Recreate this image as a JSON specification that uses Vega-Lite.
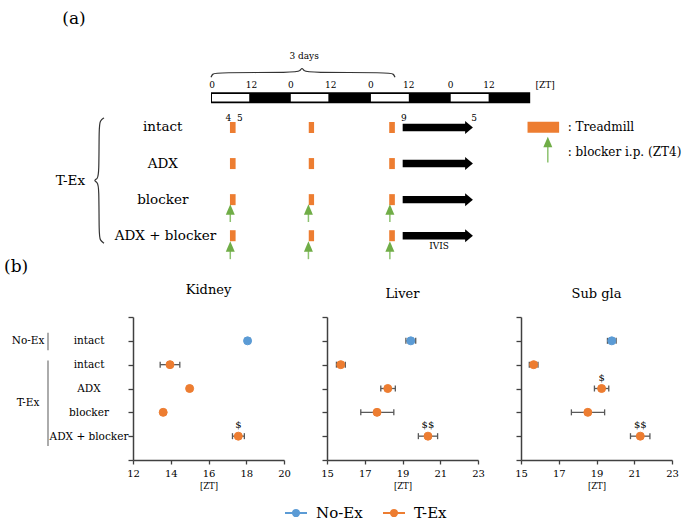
{
  "$schema": "https://vega.github.io/schema/vega-lite/v6.json",
  "padding": 0,
  "background": "#ffffff",
  "spacing": 2,
  "datasets": {
    "timeline": [{"h": 0, "h2": 96, "r": 0.176}],
    "light": [
      {"h": 0.3, "h2": 11.5, "r": 0.176},
      {"h": 24.0, "h2": 35.3, "r": 0.176},
      {"h": 48.1, "h2": 59.5, "r": 0.176},
      {"h": 72.1, "h2": 83.5, "r": 0.176}
    ],
    "treadmill": [
      {"h": 5.7, "h2": 7.4, "r": 1}, {"h": 29.4, "h2": 31.0, "r": 1}, {"h": 53.6, "h2": 55.3, "r": 1},
      {"h": 5.7, "h2": 7.4, "r": 2}, {"h": 29.4, "h2": 31.0, "r": 2}, {"h": 53.6, "h2": 55.3, "r": 2},
      {"h": 5.7, "h2": 7.4, "r": 3}, {"h": 29.4, "h2": 31.0, "r": 3}, {"h": 53.6, "h2": 55.3, "r": 3},
      {"h": 5.7, "h2": 7.4, "r": 4}, {"h": 29.4, "h2": 31.0, "r": 4}, {"h": 53.6, "h2": 55.3, "r": 4},
      {"h": 95.2, "h2": 104.7, "r": 0.99}
    ],
    "ivis": [
      {"h": 57.65, "h2": 76.8, "r": 1}, {"h": 57.65, "h2": 76.8, "r": 2},
      {"h": 57.65, "h2": 76.8, "r": 3}, {"h": 57.65, "h2": 76.8, "r": 4}
    ],
    "ivisHead": [
      {"h": 77.6, "r": 1}, {"h": 77.6, "r": 2}, {"h": 77.6, "r": 3}, {"h": 77.6, "r": 4}
    ],
    "blocker": [
      {"h": 5.8, "r": 3.273, "r2": 3.62}, {"h": 29.3, "r": 3.273, "r2": 3.62}, {"h": 53.8, "r": 3.273, "r2": 3.62},
      {"h": 5.8, "r": 4.297, "r2": 4.65}, {"h": 29.3, "r": 4.297, "r2": 4.65}, {"h": 53.8, "r": 4.297, "r2": 4.65},
      {"h": 101.3, "r": 1.401, "r2": 1.97}
    ],
    "braces": [
      {"b": "left", "i": 0, "h": -32.18, "r": 0.733},
      {"b": "left", "i": 1, "h": -33.38, "r": 0.813},
      {"b": "left", "i": 2, "h": -33.68, "r": 0.973},
      {"b": "left", "i": 3, "h": -33.68, "r": 2.31},
      {"b": "left", "i": 4, "h": -34.14, "r": 2.417},
      {"b": "left", "i": 5, "h": -35.34, "r": 2.471},
      {"b": "left", "i": 6, "h": -34.14, "r": 2.524},
      {"b": "left", "i": 7, "h": -33.68, "r": 2.631},
      {"b": "left", "i": 8, "h": -33.68, "r": 3.968},
      {"b": "left", "i": 9, "h": -33.38, "r": 4.128},
      {"b": "left", "i": 10, "h": -32.18, "r": 4.209},
      {"b": "top", "i": 0, "h": 0, "r": -0.39},
      {"b": "top", "i": 1, "h": 0.45, "r": -0.484},
      {"b": "top", "i": 2, "h": 1.5, "r": -0.524},
      {"b": "top", "i": 3, "h": 25.56, "r": -0.524},
      {"b": "top", "i": 4, "h": 26.77, "r": -0.564},
      {"b": "top", "i": 5, "h": 27.37, "r": -0.671},
      {"b": "top", "i": 6, "h": 27.97, "r": -0.564},
      {"b": "top", "i": 7, "h": 29.17, "r": -0.524},
      {"b": "top", "i": 8, "h": 53.83, "r": -0.524},
      {"b": "top", "i": 9, "h": 54.89, "r": -0.484},
      {"b": "top", "i": 10, "h": 55.34, "r": -0.39}
    ],
    "bigText": [
      {"t": "(a)", "h": -41.2, "r": -1.995},
      {"t": "(b)", "h": -58.6, "r": 4.877}
    ],
    "rowText": [
      {"t": "intact", "h": -14.5, "r": 1},
      {"t": "ADX", "h": -14.5, "r": 2},
      {"t": "blocker", "h": -14.5, "r": 3},
      {"t": "ADX + blocker", "h": -13.7, "r": 4},
      {"t": "T-Ex", "h": -42.3, "r": 2.47}
    ],
    "smallText": [
      {"t": "3 days", "h": 28, "r": -0.97},
      {"t": "0", "h": 0.3, "r": -0.168},
      {"t": "12", "h": 12.2, "r": -0.168},
      {"t": "0", "h": 24, "r": -0.168},
      {"t": "12", "h": 36, "r": -0.168},
      {"t": "0", "h": 48.1, "r": -0.168},
      {"t": "12", "h": 59.5, "r": -0.168},
      {"t": "0", "h": 72.1, "r": -0.168},
      {"t": "12", "h": 83.6, "r": -0.168},
      {"t": "[ZT]", "h": 100.5, "r": -0.168},
      {"t": "4", "h": 5.2, "r": 0.725},
      {"t": "5", "h": 8.7, "r": 0.725},
      {"t": "9", "h": 58, "r": 0.725},
      {"t": "5", "h": 79.1, "r": 0.725},
      {"t": "IVIS", "h": 68.6, "r": 4.29}
    ],
    "legendText": [
      {"t": ": Treadmill", "h": 107.3, "r": 0.98},
      {"t": ": blocker i.p. (ZT4)", "h": 107.3, "r": 1.687}
    ],
    "kidney": [
      {"cond": "No-Ex", "group": "intact", "row": 1, "mean": 18.07, "lo": 17.95, "hi": 18.2, "sig": ""},
      {"cond": "T-Ex", "group": "intact", "row": 2, "mean": 13.96, "lo": 13.44, "hi": 14.48, "sig": ""},
      {"cond": "T-Ex", "group": "ADX", "row": 3, "mean": 15.0, "lo": 14.9, "hi": 15.1, "sig": ""},
      {"cond": "T-Ex", "group": "blocker", "row": 4, "mean": 13.6, "lo": 13.5, "hi": 13.7, "sig": ""},
      {"cond": "T-Ex", "group": "ADX + blocker", "row": 5, "mean": 17.58, "lo": 17.27, "hi": 17.9, "sig": "$"}
    ],
    "liver": [
      {"cond": "No-Ex", "group": "intact", "row": 1, "mean": 19.44, "lo": 19.18, "hi": 19.7, "sig": ""},
      {"cond": "T-Ex", "group": "intact", "row": 2, "mean": 15.73, "lo": 15.5, "hi": 15.97, "sig": ""},
      {"cond": "T-Ex", "group": "ADX", "row": 3, "mean": 18.22, "lo": 17.85, "hi": 18.62, "sig": ""},
      {"cond": "T-Ex", "group": "blocker", "row": 4, "mean": 17.65, "lo": 16.79, "hi": 18.54, "sig": ""},
      {"cond": "T-Ex", "group": "ADX + blocker", "row": 5, "mean": 20.35, "lo": 19.84, "hi": 20.86, "sig": "$$"}
    ],
    "subgla": [
      {"cond": "No-Ex", "group": "intact", "row": 1, "mean": 19.81, "lo": 19.58, "hi": 20.04, "sig": ""},
      {"cond": "T-Ex", "group": "intact", "row": 2, "mean": 15.67, "lo": 15.44, "hi": 15.9, "sig": ""},
      {"cond": "T-Ex", "group": "ADX", "row": 3, "mean": 19.27, "lo": 18.89, "hi": 19.65, "sig": "$"},
      {"cond": "T-Ex", "group": "blocker", "row": 4, "mean": 18.54, "lo": 17.67, "hi": 19.43, "sig": ""},
      {"cond": "T-Ex", "group": "ADX + blocker", "row": 5, "mean": 21.32, "lo": 20.8, "hi": 21.83, "sig": "$$"}
    ]
  },
  "vconcat": [
    {
      "width": 697,
      "height": 282,
      "encoding": {
        "x": {"field": "h", "type": "quantitative", "scale": {"domain": [-63.46, 146.17], "nice": false, "zero": false}, "axis": null},
        "y": {"field": "r", "type": "quantitative", "scale": {"domain": [-2.3957, 5.1444], "reverse": true, "nice": false, "zero": false}, "axis": null}
      },
      "layer": [
        {"data": {"name": "timeline"}, "mark": {"type": "bar", "orient": "horizontal", "size": 11, "color": "#000000"}, "encoding": {"x2": {"field": "h2"}}},
        {"data": {"name": "light"}, "mark": {"type": "bar", "orient": "horizontal", "size": 7.7, "color": "#ffffff"}, "encoding": {"x2": {"field": "h2"}}},
        {"data": {"name": "treadmill"}, "mark": {"type": "bar", "orient": "horizontal", "size": 11, "color": "#ED7D31"}, "encoding": {"x2": {"field": "h2"}}},
        {"data": {"name": "ivis"}, "mark": {"type": "rule", "strokeWidth": 7.4, "color": "#000000"}, "encoding": {"x2": {"field": "h2"}}},
        {"data": {"name": "ivisHead"}, "mark": {"type": "point", "shape": "M-0.6,-1L0.6,0L-0.6,1Z", "size": 169, "filled": true, "color": "#000000", "opacity": 1}},
        {"data": {"name": "blocker"}, "mark": {"type": "rule", "strokeWidth": 1.5, "color": "#8DC26F"}, "encoding": {"y2": {"field": "r2"}}},
        {"data": {"name": "blocker"}, "mark": {"type": "point", "shape": "M0,-1L0.85,1L-0.85,1Z", "size": 112, "filled": true, "color": "#70AD47", "opacity": 1}},
        {"data": {"name": "braces"}, "mark": {"type": "line", "interpolate": "basis", "color": "#333333", "strokeWidth": 1.2}, "encoding": {"order": {"field": "i", "type": "quantitative"}, "detail": {"field": "b", "type": "nominal"}}},
        {"data": {"name": "bigText"}, "mark": {"type": "text", "fontSize": 17, "align": "center", "baseline": "middle"}, "encoding": {"text": {"field": "t"}}},
        {"data": {"name": "rowText"}, "mark": {"type": "text", "fontSize": 13.5, "align": "center", "baseline": "middle"}, "encoding": {"text": {"field": "t"}}},
        {"data": {"name": "smallText"}, "mark": {"type": "text", "fontSize": 9, "align": "center", "baseline": "middle"}, "encoding": {"text": {"field": "t"}}},
        {"data": {"name": "legendText"}, "mark": {"type": "text", "fontSize": 12, "align": "left", "baseline": "middle"}, "encoding": {"text": {"field": "t"}}}
      ]
    },
    {
      "hconcat": [
        {
          "width": 90,
          "height": 143,
          "encoding": {
            "y": {"field": "row", "type": "quantitative", "scale": {"domain": [0, 6], "reverse": true, "nice": false, "zero": false}, "axis": null}
          },
          "layer": [
            {"data": {"values": [{}]}, "mark": {"type": "rule", "strokeDash": [8, 5], "color": "#404040", "strokeWidth": 1},
             "encoding": {"x": {"datum": 4.954, "type": "quantitative", "scale": {"domain": [4.954, 9.722], "nice": false, "zero": false}, "axis": null}, "x2": {"datum": 12}, "y": {"datum": 1.5, "type": "quantitative"}}},
            {"data": {"values": [{"row": 0.66, "row2": 1.4}, {"row": 1.82, "row2": 5.41}]}, "mark": {"type": "rule", "color": "#7f7f7f", "strokeWidth": 1.3},
             "encoding": {"x": {"datum": 7.497, "type": "quantitative"}, "y2": {"field": "row2"}}},
            {"data": {"values": [{"t": "No-Ex", "row": 1}, {"t": "T-Ex", "row": 3.6}]}, "mark": {"type": "text", "fontSize": 10.5, "align": "center", "baseline": "middle"},
             "encoding": {"x": {"datum": 6.44, "type": "quantitative"}, "text": {"field": "t"}}}
          ]
        },
        {
          "width": 151,
          "height": 143,
          "title": {"text": "Kidney", "offset": 15, "anchor": "middle"},
          "encoding": {
            "y": {"field": "row", "type": "quantitative", "scale": {"domain": [0, 6], "reverse": true, "nice": false, "zero": false},
                  "axis": {"values": [0, 1, 2, 3, 4, 5, 6], "title": null, "labelExpr": "datum.value==1||datum.value==2?'intact':datum.value==3?'ADX':datum.value==4?'blocker':datum.value==5?'ADX + blocker':''", "labelAlign": "center", "labelBaseline": "middle", "labelPadding": 39.5, "labelFontSize": 10.5, "tickSize": 5, "labelFlush": false, "labelOverlap": false}}
          },
          "layer": [
            {"data": {"values": [{}]}, "mark": {"type": "rule", "strokeDash": [8, 5], "color": "#404040", "strokeWidth": 1},
             "encoding": {"x": {"datum": 12, "type": "quantitative", "scale": {"domain": [12, 20], "nice": false, "zero": false}, "axis": {"values": [12, 14, 16, 18, 20], "title": "[ZT]", "titleFontSize": 8.5, "titleFontWeight": "normal", "titlePadding": 3, "labelFontSize": 10, "labelPadding": 4, "tickSize": 4, "labelFlush": false, "labelOverlap": false}}, "x2": {"datum": 22.28}, "y": {"datum": 1.5, "type": "quantitative"}}},
            {"data": {"name": "kidney"}, "mark": {"type": "rule", "color": "#595959", "strokeWidth": 1.3},
             "encoding": {"x": {"field": "lo", "type": "quantitative", "scale": {"domain": [12, 20], "nice": false, "zero": false}, "axis": {"values": [12, 14, 16, 18, 20], "title": "[ZT]", "titleFontSize": 8.5, "titleFontWeight": "normal", "titlePadding": 3, "labelFontSize": 10, "labelPadding": 4, "tickSize": 4, "labelFlush": false, "labelOverlap": false}}, "x2": {"field": "hi"}}},
            {"data": {"name": "kidney"}, "mark": {"type": "tick", "orient": "vertical", "size": 6, "thickness": 1.3, "color": "#595959", "opacity": 1},
             "encoding": {"x": {"field": "lo", "type": "quantitative", "scale": {"domain": [12, 20], "nice": false, "zero": false}, "axis": {"values": [12, 14, 16, 18, 20], "title": "[ZT]", "titleFontSize": 8.5, "titleFontWeight": "normal", "titlePadding": 3, "labelFontSize": 10, "labelPadding": 4, "tickSize": 4, "labelFlush": false, "labelOverlap": false}}}},
            {"data": {"name": "kidney"}, "mark": {"type": "tick", "orient": "vertical", "size": 6, "thickness": 1.3, "color": "#595959", "opacity": 1},
             "encoding": {"x": {"field": "hi", "type": "quantitative", "scale": {"domain": [12, 20], "nice": false, "zero": false}, "axis": {"values": [12, 14, 16, 18, 20], "title": "[ZT]", "titleFontSize": 8.5, "titleFontWeight": "normal", "titlePadding": 3, "labelFontSize": 10, "labelPadding": 4, "tickSize": 4, "labelFlush": false, "labelOverlap": false}}}},
            {"data": {"name": "kidney"}, "mark": {"type": "point", "size": 64, "strokeWidth": 1, "opacity": 1},
             "encoding": {
               "x": {"field": "mean", "type": "quantitative", "scale": {"domain": [12, 20], "nice": false, "zero": false}, "axis": {"values": [12, 14, 16, 18, 20], "title": "[ZT]", "titleFontSize": 8.5, "titleFontWeight": "normal", "titlePadding": 3, "labelFontSize": 10, "labelPadding": 4, "tickSize": 4, "labelFlush": false, "labelOverlap": false}},
               "fill": {"field": "cond", "type": "nominal", "scale": {"domain": ["No-Ex", "T-Ex"], "range": ["#5B9BD5", "#ED7D31"]},
                        "legend": {"title": null, "orient": "none", "legendX": 284, "legendY": 501, "direction": "horizontal", "symbolType": "M-1,0H1M-0.28,0A0.28,0.28,0,1,0,0.28,0A0.28,0.28,0,1,0,-0.28,0Z", "symbolSize": 484, "symbolStrokeWidth": 2, "labelFontSize": 15, "columnPadding": 16, "labelOffset": 8}},
               "stroke": {"field": "cond", "type": "nominal", "scale": {"domain": ["No-Ex", "T-Ex"], "range": ["#5B9BD5", "#ED7D31"]},
                        "legend": {"title": null, "orient": "none", "legendX": 284, "legendY": 501, "direction": "horizontal", "symbolType": "M-1,0H1M-0.28,0A0.28,0.28,0,1,0,0.28,0A0.28,0.28,0,1,0,-0.28,0Z", "symbolSize": 484, "symbolStrokeWidth": 2, "labelFontSize": 15, "columnPadding": 16, "labelOffset": 8}}
             }},
            {"data": {"name": "kidney"}, "mark": {"type": "text", "fontSize": 10, "yOffset": -11, "align": "center", "baseline": "middle"},
             "encoding": {"x": {"field": "mean", "type": "quantitative", "scale": {"domain": [12, 20], "nice": false, "zero": false}, "axis": {"values": [12, 14, 16, 18, 20], "title": "[ZT]", "titleFontSize": 8.5, "titleFontWeight": "normal", "titlePadding": 3, "labelFontSize": 10, "labelPadding": 4, "tickSize": 4, "labelFlush": false, "labelOverlap": false}}, "text": {"field": "sig"}}}
          ]
        },
        {
          "width": 151,
          "height": 143,
          "title": {"text": "Liver", "offset": 15, "anchor": "middle"},
          "encoding": {
            "y": {"field": "row", "type": "quantitative", "scale": {"domain": [0, 6], "reverse": true, "nice": false, "zero": false},
                  "axis": {"values": [0, 1, 2, 3, 4, 5, 6], "title": null, "labels": false, "tickSize": 5}}
          },
          "layer": [
            {"data": {"values": [{}]}, "mark": {"type": "rule", "strokeDash": [8, 5], "color": "#404040", "strokeWidth": 1},
             "encoding": {"x": {"datum": 15, "type": "quantitative", "scale": {"domain": [15, 23], "nice": false, "zero": false}, "axis": {"values": [15, 17, 19, 21, 23], "title": "[ZT]", "titleFontSize": 8.5, "titleFontWeight": "normal", "titlePadding": 3, "labelFontSize": 10, "labelPadding": 4, "tickSize": 4, "labelFlush": false, "labelOverlap": false}}, "x2": {"datum": 25.3}, "y": {"datum": 1.5, "type": "quantitative"}}},
            {"data": {"name": "liver"}, "mark": {"type": "rule", "color": "#595959", "strokeWidth": 1.3},
             "encoding": {"x": {"field": "lo", "type": "quantitative", "scale": {"domain": [15, 23], "nice": false, "zero": false}, "axis": {"values": [15, 17, 19, 21, 23], "title": "[ZT]", "titleFontSize": 8.5, "titleFontWeight": "normal", "titlePadding": 3, "labelFontSize": 10, "labelPadding": 4, "tickSize": 4, "labelFlush": false, "labelOverlap": false}}, "x2": {"field": "hi"}}},
            {"data": {"name": "liver"}, "mark": {"type": "tick", "orient": "vertical", "size": 6, "thickness": 1.3, "color": "#595959", "opacity": 1},
             "encoding": {"x": {"field": "lo", "type": "quantitative", "scale": {"domain": [15, 23], "nice": false, "zero": false}, "axis": {"values": [15, 17, 19, 21, 23], "title": "[ZT]", "titleFontSize": 8.5, "titleFontWeight": "normal", "titlePadding": 3, "labelFontSize": 10, "labelPadding": 4, "tickSize": 4, "labelFlush": false, "labelOverlap": false}}}},
            {"data": {"name": "liver"}, "mark": {"type": "tick", "orient": "vertical", "size": 6, "thickness": 1.3, "color": "#595959", "opacity": 1},
             "encoding": {"x": {"field": "hi", "type": "quantitative", "scale": {"domain": [15, 23], "nice": false, "zero": false}, "axis": {"values": [15, 17, 19, 21, 23], "title": "[ZT]", "titleFontSize": 8.5, "titleFontWeight": "normal", "titlePadding": 3, "labelFontSize": 10, "labelPadding": 4, "tickSize": 4, "labelFlush": false, "labelOverlap": false}}}},
            {"data": {"name": "liver"}, "mark": {"type": "point", "size": 64, "strokeWidth": 1, "opacity": 1},
             "encoding": {
               "x": {"field": "mean", "type": "quantitative", "scale": {"domain": [15, 23], "nice": false, "zero": false}, "axis": {"values": [15, 17, 19, 21, 23], "title": "[ZT]", "titleFontSize": 8.5, "titleFontWeight": "normal", "titlePadding": 3, "labelFontSize": 10, "labelPadding": 4, "tickSize": 4, "labelFlush": false, "labelOverlap": false}},
               "fill": {"field": "cond", "type": "nominal", "scale": {"domain": ["No-Ex", "T-Ex"], "range": ["#5B9BD5", "#ED7D31"]}},
               "stroke": {"field": "cond", "type": "nominal", "scale": {"domain": ["No-Ex", "T-Ex"], "range": ["#5B9BD5", "#ED7D31"]}}
             }},
            {"data": {"name": "liver"}, "mark": {"type": "text", "fontSize": 10, "yOffset": -11, "align": "center", "baseline": "middle"},
             "encoding": {"x": {"field": "mean", "type": "quantitative", "scale": {"domain": [15, 23], "nice": false, "zero": false}, "axis": {"values": [15, 17, 19, 21, 23], "title": "[ZT]", "titleFontSize": 8.5, "titleFontWeight": "normal", "titlePadding": 3, "labelFontSize": 10, "labelPadding": 4, "tickSize": 4, "labelFlush": false, "labelOverlap": false}}, "text": {"field": "sig"}}}
          ]
        },
        {
          "width": 151,
          "height": 143,
          "title": {"text": "Sub gla", "offset": 15, "anchor": "middle"},
          "encoding": {
            "y": {"field": "row", "type": "quantitative", "scale": {"domain": [0, 6], "reverse": true, "nice": false, "zero": false},
                  "axis": {"values": [0, 1, 2, 3, 4, 5, 6], "title": null, "labels": false, "tickSize": 5}}
          },
          "layer": [
            {"data": {"values": [{}]}, "mark": {"type": "rule", "strokeDash": [8, 5], "color": "#404040", "strokeWidth": 1},
             "encoding": {"x": {"datum": 15, "type": "quantitative", "scale": {"domain": [15, 23], "nice": false, "zero": false}, "axis": {"values": [15, 17, 19, 21, 23], "title": "[ZT]", "titleFontSize": 8.5, "titleFontWeight": "normal", "titlePadding": 3, "labelFontSize": 10, "labelPadding": 4, "tickSize": 4, "labelFlush": false, "labelOverlap": false}}, "x2": {"datum": 24.2}, "y": {"datum": 1.5, "type": "quantitative"}}},
            {"data": {"name": "subgla"}, "mark": {"type": "rule", "color": "#595959", "strokeWidth": 1.3},
             "encoding": {"x": {"field": "lo", "type": "quantitative", "scale": {"domain": [15, 23], "nice": false, "zero": false}, "axis": {"values": [15, 17, 19, 21, 23], "title": "[ZT]", "titleFontSize": 8.5, "titleFontWeight": "normal", "titlePadding": 3, "labelFontSize": 10, "labelPadding": 4, "tickSize": 4, "labelFlush": false, "labelOverlap": false}}, "x2": {"field": "hi"}}},
            {"data": {"name": "subgla"}, "mark": {"type": "tick", "orient": "vertical", "size": 6, "thickness": 1.3, "color": "#595959", "opacity": 1},
             "encoding": {"x": {"field": "lo", "type": "quantitative", "scale": {"domain": [15, 23], "nice": false, "zero": false}, "axis": {"values": [15, 17, 19, 21, 23], "title": "[ZT]", "titleFontSize": 8.5, "titleFontWeight": "normal", "titlePadding": 3, "labelFontSize": 10, "labelPadding": 4, "tickSize": 4, "labelFlush": false, "labelOverlap": false}}}},
            {"data": {"name": "subgla"}, "mark": {"type": "tick", "orient": "vertical", "size": 6, "thickness": 1.3, "color": "#595959", "opacity": 1},
             "encoding": {"x": {"field": "hi", "type": "quantitative", "scale": {"domain": [15, 23], "nice": false, "zero": false}, "axis": {"values": [15, 17, 19, 21, 23], "title": "[ZT]", "titleFontSize": 8.5, "titleFontWeight": "normal", "titlePadding": 3, "labelFontSize": 10, "labelPadding": 4, "tickSize": 4, "labelFlush": false, "labelOverlap": false}}}},
            {"data": {"name": "subgla"}, "mark": {"type": "point", "size": 64, "strokeWidth": 1, "opacity": 1},
             "encoding": {
               "x": {"field": "mean", "type": "quantitative", "scale": {"domain": [15, 23], "nice": false, "zero": false}, "axis": {"values": [15, 17, 19, 21, 23], "title": "[ZT]", "titleFontSize": 8.5, "titleFontWeight": "normal", "titlePadding": 3, "labelFontSize": 10, "labelPadding": 4, "tickSize": 4, "labelFlush": false, "labelOverlap": false}},
               "fill": {"field": "cond", "type": "nominal", "scale": {"domain": ["No-Ex", "T-Ex"], "range": ["#5B9BD5", "#ED7D31"]}},
               "stroke": {"field": "cond", "type": "nominal", "scale": {"domain": ["No-Ex", "T-Ex"], "range": ["#5B9BD5", "#ED7D31"]}}
             }},
            {"data": {"name": "subgla"}, "mark": {"type": "text", "fontSize": 10, "yOffset": -11, "align": "center", "baseline": "middle"},
             "encoding": {"x": {"field": "mean", "type": "quantitative", "scale": {"domain": [15, 23], "nice": false, "zero": false}, "axis": {"values": [15, 17, 19, 21, 23], "title": "[ZT]", "titleFontSize": 8.5, "titleFontWeight": "normal", "titlePadding": 3, "labelFontSize": 10, "labelPadding": 4, "tickSize": 4, "labelFlush": false, "labelOverlap": false}}, "text": {"field": "sig"}}}
          ]
        }
      ],
      "spacing": 43,
      "bounds": "flush"
    }
  ],
  "config": {
    "font": "DejaVu Serif",
    "view": {"stroke": null},
    "axis": {"domainColor": "#404040", "tickColor": "#404040", "domainWidth": 1.5, "tickWidth": 1.3, "labelColor": "#000000", "titleColor": "#000000", "grid": false, "labelFont": "DejaVu Serif", "titleFont": "DejaVu Serif"},
    "title": {"font": "DejaVu Serif", "fontSize": 13, "fontWeight": "normal", "color": "#000000"},
    "legend": {"labelFont": "DejaVu Serif", "labelColor": "#000000"},
    "text": {"font": "DejaVu Serif", "color": "#000000"}
  }
}
